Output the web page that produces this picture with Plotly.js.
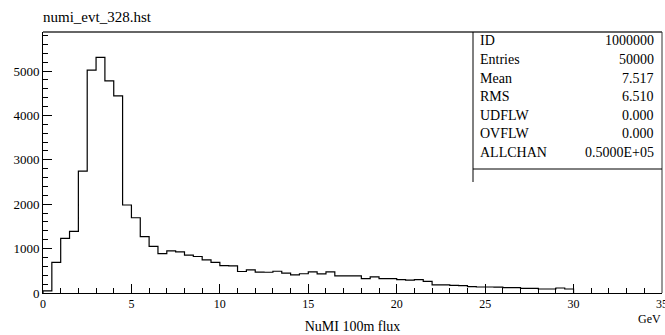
<!DOCTYPE html>
<html>
<head>
<meta charset="utf-8">
<script src="https://cdn.plot.ly/plotly-3.0.1.min.js"></script>
<style>html,body{margin:0;padding:0;background:#fff;}#chart{width:665px;height:335px;}</style>
</head>
<body>
<div id="chart"></div>
<script>
// Histogram: NuMI 100m flux, 60 bins of 0.5 GeV from 0 to 30
var binStart = 0;
var binWidth = 0.5;
var counts = [
  50, 692, 1230, 1390, 2745, 5020, 5310, 4780, 4440, 1983,
  1695, 1270, 1052, 887, 950, 925, 852, 822, 746, 690,
  615, 612, 484, 521, 470, 468, 490, 446, 410, 434,
  476, 431, 476, 388, 388, 386, 322, 362, 325, 322,
  301, 288, 300, 264, 181, 181, 173, 166, 143, 135,
  135, 132, 120, 120, 105, 105, 90, 90, 113, 90
];
var statLabels = ["ID", "Entries", "Mean", "RMS", "UDFLW", "OVFLW", "ALLCHAN"];
var statValues = ["1000000", "50000", "7.517", "6.510", "0.000", "0.000", "0.5000E+05"];
var xTickVals = [0, 5, 10, 15, 20, 25, 30, 35];
var yTickVals = [0, 1000, 2000, 3000, 4000, 5000];

// build step outline from bin edges
var xs = [binStart], ys = [0];
for (var i = 0; i < counts.length; i++) {
  xs.push(binStart + i * binWidth);
  ys.push(counts[i]);
}
xs.push(binStart + counts.length * binWidth); ys.push(counts[counts.length - 1]);
xs.push(binStart + counts.length * binWidth); ys.push(0);

var W = 665, H = 335;
var mL = 43, mR = 3, mT = 32, mB = 42;
var pw = W - mL - mR, ph = H - mT - mB;
function px2x(p) { return (p - mL) / pw; }
function py2y(p) { return (H - mB - p) / ph; }

var serif = '"Liberation Serif", serif';

var annotations = [];
var rowY = [41, 59.5, 78, 96.5, 115, 133.5, 152];
for (var k = 0; k < statLabels.length; k++) {
  annotations.push({xref: 'paper', yref: 'paper', x: px2x(478), y: py2y(rowY[k]),
    xanchor: 'left', yanchor: 'middle', showarrow: false, text: statLabels[k],
    font: {family: serif, size: 14, color: '#000'}});
  annotations.push({xref: 'paper', yref: 'paper', x: px2x(656), y: py2y(rowY[k]),
    xanchor: 'right', yanchor: 'middle', showarrow: false, text: statValues[k],
    font: {family: serif, size: 14, color: '#000'}});
}
annotations.push({xref: 'paper', yref: 'paper', x: px2x(663), y: py2y(319),
  xanchor: 'right', yanchor: 'middle', showarrow: false, text: 'GeV',
  font: {family: serif, size: 12, color: '#000'}});

var shapes = [
  {type: 'line', xref: 'paper', yref: 'paper', x0: 0, x1: 1, y0: 1, y1: 1, line: {color: '#666', width: 2}},
  {type: 'line', xref: 'paper', yref: 'paper', x0: 1, x1: 1, y0: 0, y1: 1, line: {color: '#333', width: 1}},
  {type: 'line', xref: 'paper', yref: 'paper', x0: px2x(473), x1: px2x(473), y0: py2y(182), y1: 1, line: {color: '#000', width: 1}},
  {type: 'line', xref: 'paper', yref: 'paper', x0: px2x(473), x1: 1, y0: py2y(169), y1: py2y(169), line: {color: '#000', width: 1}}
];

var trace = {
  type: 'scatter', mode: 'lines', x: xs, y: ys,
  line: {shape: 'hv', color: '#000', width: 1.2},
  hoverinfo: 'skip', showlegend: false
};

var layout = {
  width: W, height: H,
  margin: {l: mL, r: mR, t: mT, b: mB, pad: 0},
  paper_bgcolor: '#fff', plot_bgcolor: '#fff',
  title: {text: 'numi_evt_328.hst', xref: 'container', yref: 'container',
    x: 43 / W, xanchor: 'left', y: 1 - 17 / H, yanchor: 'middle',
    font: {family: serif, size: 15, color: '#000'}},
  xaxis: {
    range: [0, 35], showgrid: false, zeroline: false,
    showline: true, linecolor: '#000', linewidth: 1,
    tickmode: 'array', tickvals: xTickVals, ticktext: xTickVals.map(String),
    ticks: 'inside', ticklen: 9, tickcolor: '#000', tickwidth: 1,
    minor: {dtick: 1, tick0: 0, ticks: 'inside', ticklen: 5, tickcolor: '#000', showgrid: false},
    tickfont: {family: serif, size: 12, color: '#000'},
    ticklabeloverflow: 'allow',
    title: {text: 'NuMI 100m flux', standoff: 10, font: {family: serif, size: 14, color: '#000'}},
    automargin: false, fixedrange: true
  },
  yaxis: {
    range: [0, 5880], showgrid: false, zeroline: false,
    showline: true, linecolor: '#000', linewidth: 1,
    tickmode: 'array', tickvals: yTickVals, ticktext: yTickVals.map(String),
    ticks: 'inside', ticklen: 9, tickcolor: '#000', tickwidth: 1,
    minor: {dtick: 200, tick0: 0, ticks: 'inside', ticklen: 5, tickcolor: '#000', showgrid: false},
    tickfont: {family: serif, size: 13, color: '#000'},
    automargin: false, fixedrange: true
  },
  shapes: shapes,
  annotations: annotations
};

Plotly.newPlot('chart', [trace], layout, {staticPlot: true, displayModeBar: false});
</script>
</body>
</html>
